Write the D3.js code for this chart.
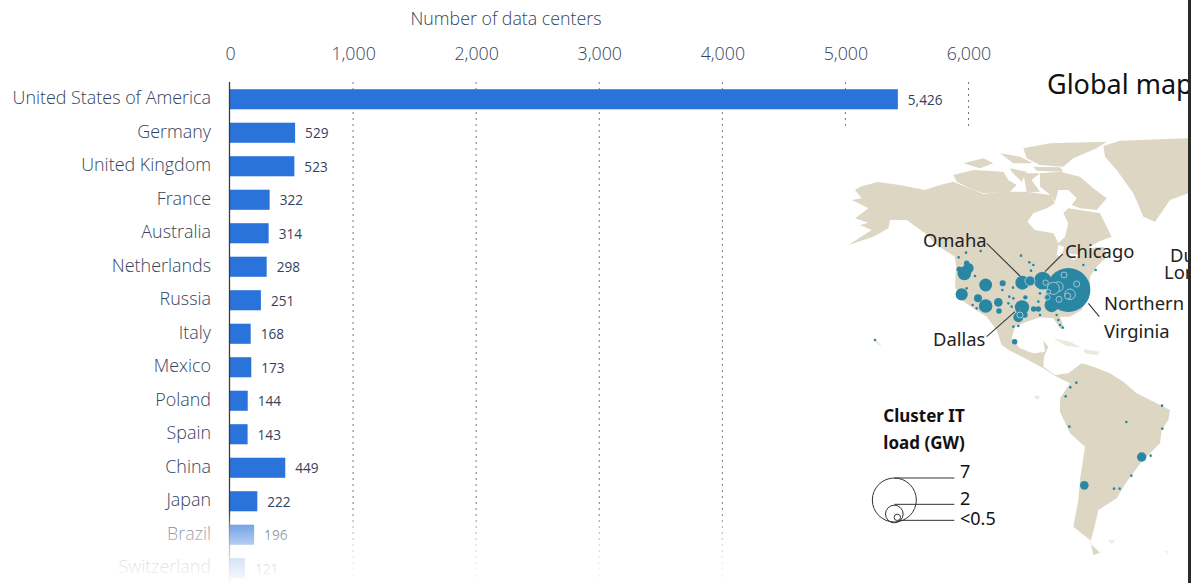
<!DOCTYPE html>
<html><head><meta charset="utf-8">
<script src="https://cdnjs.cloudflare.com/ajax/libs/d3/7.8.5/d3.min.js"></script>
<style>html,body{margin:0;padding:0;background:#fff;overflow:hidden}svg{display:block}</style>
</head><body><svg id="c" width="1191" height="583"></svg>
<script>
const countries=["United States of America","Germany","United Kingdom","France","Australia","Netherlands","Russia","Italy","Mexico","Poland","Spain","China","Japan","Brazil","Switzerland"];
const dataCenters=[5426,529,523,322,314,298,251,168,173,144,143,449,222,196,121];
const xTicks=[0,1000,2000,3000,4000,5000,6000];
const landMain=[[45,390],[60,380],[113,366],[180,375],[255,390],[300,375],[340,365],[400,390],[430,402],[480,395],[560,395],[630,405],[645,430],[620,445],[580,460],[562,485],[585,510],[640,520],[655,550],[675,530],[685,490],[670,460],[685,445],[720,450],[780,460],[800,500],[815,530],[775,545],[745,565],[790,560],[800,590],[770,620],[750,650],[750,700],[725,750],[690,770],[660,770],[672,805],[660,805],[640,775],[600,772],[560,785],[525,800],[515,835],[540,865],[575,878],[585,880],[615,875],[610,842],[625,860],[612,890],[610,920],[645,945],[685,940],[725,910],[760,920],[810,940],[850,965],[890,1000],[990,1050],[985,1080],[965,1110],[960,1150],[905,1205],[860,1265],[830,1315],[775,1350],[765,1395],[750,1450],[780,1478],[760,1485],[750,1440],[700,1400],[715,1320],[720,1260],[735,1160],[690,1120],[660,1055],[660,1015],[690,970],[650,950],[610,925],[560,898],[510,872],[485,855],[470,810],[440,770],[400,745],[365,720],[345,680],[348,620],[345,590],[290,555],[255,520],[200,480],[150,480],[145,505],[100,530],[25,555],[95,510],[60,495],[85,488],[45,475],[85,445],[35,420],[65,415]];
const landGreenland=[[790,258],[840,242],[1045,235],[1045,400],[990,420],[945,485],[910,470],[880,400],[830,330],[795,290]];
const landEllesmere=[[550,265],[630,250],[800,245],[770,265],[700,295],[670,320],[600,315],[560,295]];
const landQueenElizabeth=[[480,280],[540,290],[580,310],[520,310]];
const landDevon=[[580,320],[660,322],[670,335],[590,332]];
const landBaffin=[[600,340],[660,335],[720,350],[760,385],[800,415],[770,450],[720,445],[695,435],[710,415],[685,390],[655,390],[645,425],[625,400],[600,380]];
const landVictoria=[[340,345],[400,330],[490,335],[505,360],[530,375],[510,395],[430,400],[400,390],[350,365]];
const landBanks=[[370,310],[430,295],[460,310],[420,325]];
const landSomerset=[[510,325],[560,335],[545,365],[515,335]];
const landBoothia=[[550,340],[600,340],[575,360],[600,395],[560,397]];
const paleIslands=[[[640,835],[690,845],[720,862],[680,858]],[[730,868],[780,875],[770,885],[735,880]],[[585,1005],[600,1010],[595,1018],[585,1015]],[[803,1440],[825,1442],[815,1452]],[[970,1468],[985,1475],[982,1480]],[[98,835],[112,842],[125,858],[115,855]]];
const lakes=[[[655,555],[672,560],[665,590],[650,585]],[[680,580],[720,585],[700,600]]];
const clusters=[[373,640,1.4],[385,625,1],[358,628,.4],[380,610,.4],[437,675,1.3],[365,703,1.2],[414,715,.68],[437,738,1.4],[475,727,.75],[477,753,.4],[488,670,.46],[547,668,1.46],[608,662,2],[685,690,7],[635,735,1.5],[546,742,1.5],[535,772,.92],[555,765,.4],[524,845,.4],[581,747,.4],[595,747,.4],[556,712,.3],[905,1191,.85],[733,1276,.75]];
const ringed=[[570,663,.92],[672,645,.46],[710,672,.46],[655,680,.9],[640,685,1.2],[617,668,.4],[690,703,1],[683,708,.46],[657,718,.46],[622,712,.4],[625,695,.3],[540,765,.46]];
const tinyClusters=[[356,592],[378,578],[422,573],[543,587],[568,607],[580,615],[573,632],[730,615],[767,630],[405,648],[380,685],[398,735],[410,745],[519,683],[487,690],[508,710],[505,730],[520,715],[515,740],[600,700],[595,725],[600,765],[650,765],[655,780],[660,795],[668,803],[520,800],[535,798],[105,840],[709,968],[691,982],[677,1009],[688,1100],[859,1086],[966,1037],[967,1106],[932,1187],[874,1247],[822,1286],[839,1286]];
const leaders=[[[440,550],[540,648]],[[668,582],[615,635]],[[745,730],[778,770]],[[440,830],[525,755]]];
const mapLabels=[["Omaha",923,247],["Chicago",1065,258],["Northern",1104,310],["Virginia",1104,338],["Dallas",933,346],["Du",1170,262],["Lon",1164,279]];
const legendValues=[7,2,0.5];
const legendLabels=["7","2","<0.5"];

const svg=d3.select("#c");
const defs=svg.append("defs");
const grad=defs.append("linearGradient").attr("id","fade").attr("x1",0).attr("x2",0).attr("y1",0).attr("y2",1);
[[0,0],[.18,.35],[.46,.65],[.65,.8],[1,.98]].forEach(s=>grad.append("stop").attr("offset",s[0]).attr("stop-color","#fff").attr("stop-opacity",s[1]));
defs.append("clipPath").attr("id","mapClip").append("rect").attr("x",830).attr("y",0).attr("width",358).attr("height",583);
defs.append("filter").attr("id","soft").append("feGaussianBlur").attr("stdDeviation",0.45);

const font="'Open Sans',sans-serif", ink="#33435e";
const x=d3.scaleLinear().domain([0,6000]).range([230,968.5]);
const y=d3.scaleBand().domain(countries).range([82.5,585]).paddingInner(0.4).paddingOuter(0.2);

// gridlines
const grid=svg.append("g");
grid.selectAll("line").data(xTicks.slice(1)).join("line")
 .attr("x1",d=>x(d)).attr("x2",d=>x(d)).attr("y1",82).attr("y2",d=>d>=5000?129:583)
 .attr("stroke","#777").attr("stroke-width",1).attr("stroke-dasharray","2 4");

// axis
const axisG=svg.append("g").attr("transform","translate(0,60)").call(d3.axisTop(x).tickValues(xTicks).tickFormat(d3.format(",")).tickSize(0).tickPadding(0));
axisG.select(".domain").remove();
axisG.selectAll("text").attr("font-family",font).attr("font-size",17.8).attr("fill",ink).attr("font-weight",300).attr("dy",0);
svg.append("text").attr("x",506).attr("y",25).attr("text-anchor","middle").attr("font-family",font).attr("font-weight",300).attr("font-size",17.8).attr("fill",ink).text("Number of data centers");

// bars
svg.append("g").selectAll("rect").data(dataCenters).join("rect")
 .attr("x",x(0)).attr("y",(d,i)=>y(countries[i])).attr("width",d=>x(d)-x(0)).attr("height",y.bandwidth())
 .attr("fill","#2a73db");
svg.append("line").attr("x1",229.5).attr("x2",229.5).attr("y1",82).attr("y2",583).attr("stroke","#3c3c3c").attr("stroke-width",1.3);
svg.append("g").selectAll("text").data(countries).join("text")
 .attr("x",211).attr("y",d=>y(d)+y.bandwidth()/2+5).attr("text-anchor","end")
 .attr("font-family",font).attr("font-weight",300).attr("font-size",17.9).attr("fill",ink).text(d=>d);
svg.append("g").selectAll("text").data(dataCenters).join("text")
 .attr("x",d=>x(d)+10).attr("y",(d,i)=>y(countries[i])+y.bandwidth()/2+5.5)
 .attr("font-family",font).attr("font-size",13.6).attr("fill",ink).text(d=>d3.format(",")(d));
svg.append("rect").attr("x",0).attr("y",512).attr("width",835).attr("height",71).attr("fill","url(#fade)");

// map picture
const mx=d3.scaleLinear().domain([0,1053]).range([840,1191]);
const my=d3.scaleLinear().domain([0,1569]).range([60,583]);
const rScale=d3.scalePow().exponent(.73).domain([0,7]).range([0,22]);
const path=d3.line().x(d=>mx(d[0])).y(d=>my(d[1])).curve(d3.curveLinearClosed);
const map=svg.append("g").attr("clip-path","url(#mapClip)");
const art=map.append("g").attr("filter","url(#soft)");
const land=art.append("g").attr("fill","#dcd6c3");
[landMain,landGreenland,landEllesmere,landQueenElizabeth,landDevon,landBaffin,landVictoria,landBanks,landSomerset,landBoothia].forEach(p=>land.append("path").attr("d",path(p)));
art.append("g").attr("fill","#ece8dc").selectAll("path").data(paleIslands).join("path").attr("d",path);
art.append("g").attr("fill","#fff").selectAll("path").data(lakes).join("path").attr("d",path);
const teal="#2b87a3";
art.append("g").attr("fill",teal).selectAll("circle").data(clusters).join("circle")
 .attr("cx",d=>mx(d[0])).attr("cy",d=>my(d[1])).attr("r",d=>rScale(d[2]));
art.append("g").attr("fill",teal).selectAll("circle").data(tinyClusters).join("circle")
 .attr("cx",d=>mx(d[0])).attr("cy",d=>my(d[1])).attr("r",1.3);
art.append("g").attr("fill",teal).attr("stroke","#a9ccd8").attr("stroke-width",.9).selectAll("circle").data(ringed).join("circle")
 .attr("cx",d=>mx(d[0])).attr("cy",d=>my(d[1])).attr("r",d=>rScale(d[2]));
const ld=d3.line().x(d=>mx(d[0])).y(d=>my(d[1]));
art.append("g").attr("stroke","#3a3a3a").attr("stroke-width",1.1).attr("fill","none").selectAll("path").data(leaders).join("path").attr("d",ld);

const calibri="'Noto Sans','Open Sans',sans-serif";
map.append("g").selectAll("text").data(mapLabels).join("text")
 .attr("x",d=>d[1]).attr("y",d=>d[2]).attr("font-family",calibri).attr("font-size",18.4).attr("fill","#222").text(d=>d[0]);
map.append("text").attr("x",1047).attr("y",94).attr("font-family",calibri).attr("font-size",27).attr("fill","#111").text("Global map of");

// size legend
const legendCenters=[[163,1320],[163,1362],[172,1372]];
const legendLines=[[163,1254],[163,1333],[175,1381]];
const lg=map.append("g").attr("filter","url(#soft)");
lg.append("g").attr("fill","none").attr("stroke","#333").selectAll("circle").data(legendValues).join("circle")
 .attr("cx",(d,i)=>mx(legendCenters[i][0])).attr("cy",(d,i)=>my(legendCenters[i][1])).attr("r",d=>rScale(d));
lg.append("g").attr("stroke","#333").selectAll("line").data(legendLines).join("line")
 .attr("x1",d=>mx(d[0])).attr("x2",mx(343)).attr("y1",d=>my(d[1])).attr("y2",d=>my(d[1]));
const legendTextY=[478,505,525];
map.append("g").selectAll("text").data(legendLabels).join("text")
 .attr("x",960).attr("y",(d,i)=>legendTextY[i]).attr("font-family",calibri).attr("font-size",18).attr("fill","#111").text(d=>d);
map.append("g").selectAll("text").data(["Cluster IT","load (GW)"]).join("text")
 .attr("x",924).attr("y",(d,i)=>422+i*27).attr("text-anchor","middle").attr("font-family",calibri).attr("font-weight",700).attr("font-size",17).attr("fill","#111").text(d=>d);

svg.append("rect").attr("x",1188).attr("y",0).attr("width",3).attr("height",583).attr("fill","#2a2a2a");
</script></body></html>
